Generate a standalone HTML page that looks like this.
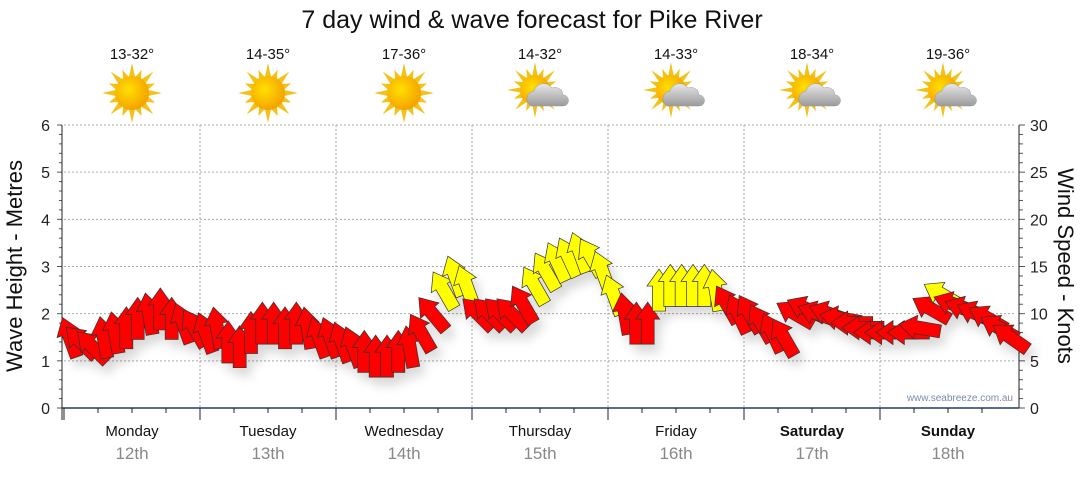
<!DOCTYPE html>
<html><head><meta charset="utf-8"><style>
body{margin:0;background:#fff;width:1080px;height:475px;overflow:hidden;font-family:"Liberation Sans","DejaVu Sans",sans-serif}
</style></head><body>
<svg id="chart" width="1080" height="475" xmlns="http://www.w3.org/2000/svg">
<defs>
<filter id="sh" x="-50%" y="-50%" width="200%" height="200%"><feDropShadow dx="5" dy="8" stdDeviation="5" flood-color="#000" flood-opacity="0.15"/></filter>
<radialGradient id="sunG" cx="0.4" cy="0.4" r="0.6"><stop offset="0" stop-color="#ffe000"/><stop offset="1" stop-color="#f5a300"/></radialGradient>
<linearGradient id="cloudG" x1="0" y1="0" x2="0" y2="1"><stop offset="0" stop-color="#e8e8e8"/><stop offset="1" stop-color="#9a9a9a"/></linearGradient>
</defs>
<text x="532" y="28" text-anchor="middle" font-size="25" fill="#111">7 day wind &amp; wave forecast for Pike River</text>
<g id="grid"></g><g id="axes"></g><g id="icons"></g><g id="arrows" filter="url(#sh)"></g>
<text transform="translate(22,266) rotate(-90)" text-anchor="middle" font-size="22" fill="#111">Wave Height - Metres</text>
<text transform="translate(1058,266) rotate(90)" text-anchor="middle" font-size="22" fill="#111">Wind Speed - Knots</text>
<text x="1013" y="401" text-anchor="end" font-size="10" fill="#7a8ca8">www.seabreeze.com.au</text>
</svg>
<script>
const days=["Monday","Tuesday","Wednesday","Thursday","Friday","Saturday","Sunday"];
const dates=["12th","13th","14th","15th","16th","17th","18th"];
const temps=["13-32°","14-35°","17-36°","14-32°","14-33°","18-34°","19-36°"];
const cloudy=[0,0,0,1,1,1,1];
const windKnots=[
7.5,7,6.5,7.5,8,8.5,9.5,10,10.5,9.5,9,8.5,
8,8.5,7,6.5,8,9,9,8.5,9,8.5,7.5,7.5,
7,6.5,6,5.5,5.5,6,6.5,8,10,12.5,14,13,
10,10,10,10,11,13,14.5,15.5,16,16.5,16,14.5,
12,10,9,9,12.5,13,13,13,13,12.5,11,10,
10,9,8,7.5,10,10.5,10,10,9.5,9,8.5,8,
8,8,8,8.5,10.5,12,11,10.5,10,9.5,8.5,7.5];
const windDir=[
-20,-45,-45,-10,-10,0,0,-10,0,0,-20,-30,
-20,-10,0,0,0,0,0,0,0,-10,-20,-20,
-20,-20,0,0,0,0,-10,-30,-40,-30,-20,-20,
-45,-45,-45,-45,-30,-30,-30,-25,-25,-20,-30,-20,
-20,-10,0,0,0,0,0,0,0,-10,-30,-25,
-30,-30,-25,-30,-60,-65,-70,-70,-80,-90,-90,-90,
-90,-90,-90,-80,-60,-60,-70,-70,-65,-60,-60,-55];
const waveTicks=[0,1,2,3,4,5,6];
const knotTicks=[0,5,10,15,20,25,30];
const NS="http://www.w3.org/2000/svg";
const X0=64,X1=1016,YT=125,YB=408;
const dayW=(X1-X0)/7;
const yM=m=>YB-(YB-YT)*m/6;
const yK=k=>YB-(YB-YT)*k/30;
const xH=h=>X0+dayW*h/24;
function mk(tag,attrs,parent,txt){const e=document.createElementNS(NS,tag);for(const k in attrs)e.setAttribute(k,attrs[k]);if(txt!==undefined)e.textContent=txt;parent.appendChild(e);return e;}
const grid=document.getElementById('grid'),axes=document.getElementById('axes'),icons=document.getElementById('icons'),arr=document.getElementById('arrows');
waveTicks.forEach(v=>{
 if(v>0){const l=mk('line',{x1:X0,x2:X1,y1:yM(v),y2:yM(v),stroke:'#aaa','stroke-dasharray':'2,2','stroke-width':1},grid);
 }
 const t=mk('text',{x:50,y:yM(v)+6,'text-anchor':'end','font-size':16,fill:'#222'},axes,String(v));
 
});
for(let i=0;i<=30;i++){const y=yM(i/5);mk('line',{x1:i%5?59:57,x2:62,y1:y,y2:y,stroke:'#555'},axes);}
for(let i=0;i<=30;i++){const y=yK(i);mk('line',{x1:1019,x2:i%5?1023:1025,y1:y,y2:y,stroke:'#555'},axes);}
knotTicks.forEach(v=>{const t=mk('text',{x:1030,y:yK(v)+6,'font-size':16,fill:'#222'},axes,String(v));
 });
mk('line',{x1:62,x2:62,y1:YT,y2:YB+12,stroke:'#222'},axes);
mk('line',{x1:1019,x2:1019,y1:YT,y2:YB,stroke:'#222'},axes);
mk('line',{x1:62,x2:1019,y1:YB,y2:YB,stroke:'#1d3f66','stroke-width':1.5},axes);
for(let d=0;d<7;d++){
 const xb=X0+d*dayW;
 if(d>0){const g=mk('line',{x1:xb,x2:xb,y1:YT,y2:YB,stroke:'#aaa','stroke-dasharray':'2,2'},grid);
  }
 mk('line',{x1:xb,x2:xb,y1:YB,y2:YB+12,stroke:'#222'},axes);
 for(let q=1;q<4;q++)mk('line',{x1:xb+q*dayW/4,x2:xb+q*dayW/4,y1:YB,y2:YB+5,stroke:'#222'},axes);
 const cx=xb+dayW/2;
 const dl=mk('text',{x:cx,y:436,'text-anchor':'middle','font-size':15,fill:'#111','font-weight':d>=5?'bold':'normal'},axes,days[d]);
 
 const dt=mk('text',{x:cx,y:459,'text-anchor':'middle','font-size':17,fill:'#888'},axes,dates[d]);
 
 const tt=mk('text',{x:cx,y:59,'text-anchor':'middle','font-size':15,fill:'#111'},icons,temps[d]);
 
 const g=mk('g',{},icons);
 
 const sx=cloudy[d]?cx-5:cx, sy=cloudy[d]?90:93, r=cloudy[d]?15:17;
 for(let a=0;a<16;a++){const an=a*Math.PI/8,L=a%2?r+8:r+13;
  const p1=[sx+Math.cos(an)*L,sy+Math.sin(an)*L],p2=[sx+Math.cos(an+0.2)*(r-1),sy+Math.sin(an+0.2)*(r-1)],p3=[sx+Math.cos(an-0.2)*(r-1),sy+Math.sin(an-0.2)*(r-1)];
  mk('polygon',{points:[p1,p2,p3].map(p=>p.join(',')).join(' '),fill:'#f2c21b'},g);}
 mk('circle',{cx:sx,cy:sy,r:r,fill:'url(#sunG)'},g);
 if(cloudy[d]){mk('path',{d:`M${cx-9},${sy+16} a8,8 0 0 1 3,-15 a10,10 0 0 1 18,-3 a8,8 0 0 1 11,7 a5.5,5.5 0 0 1 0,11 z`,fill:'url(#cloudG)',stroke:'#999','stroke-width':0.5},g);}
}
windKnots.forEach((k,i)=>{
 const x=xH(i*2+1),y=yK(k);
 const p=mk('polygon',{points:'0,-21 12,-4 6.5,-4 6.5,21 -6.5,21 -6.5,-4 -12,-4',transform:`translate(${x},${y}) rotate(${windDir[i]})`,fill:k>=12?'#ffff00':'#ff0000',stroke:'#333','stroke-width':0.7},arr);
 
 
});
</script>
</body></html>
